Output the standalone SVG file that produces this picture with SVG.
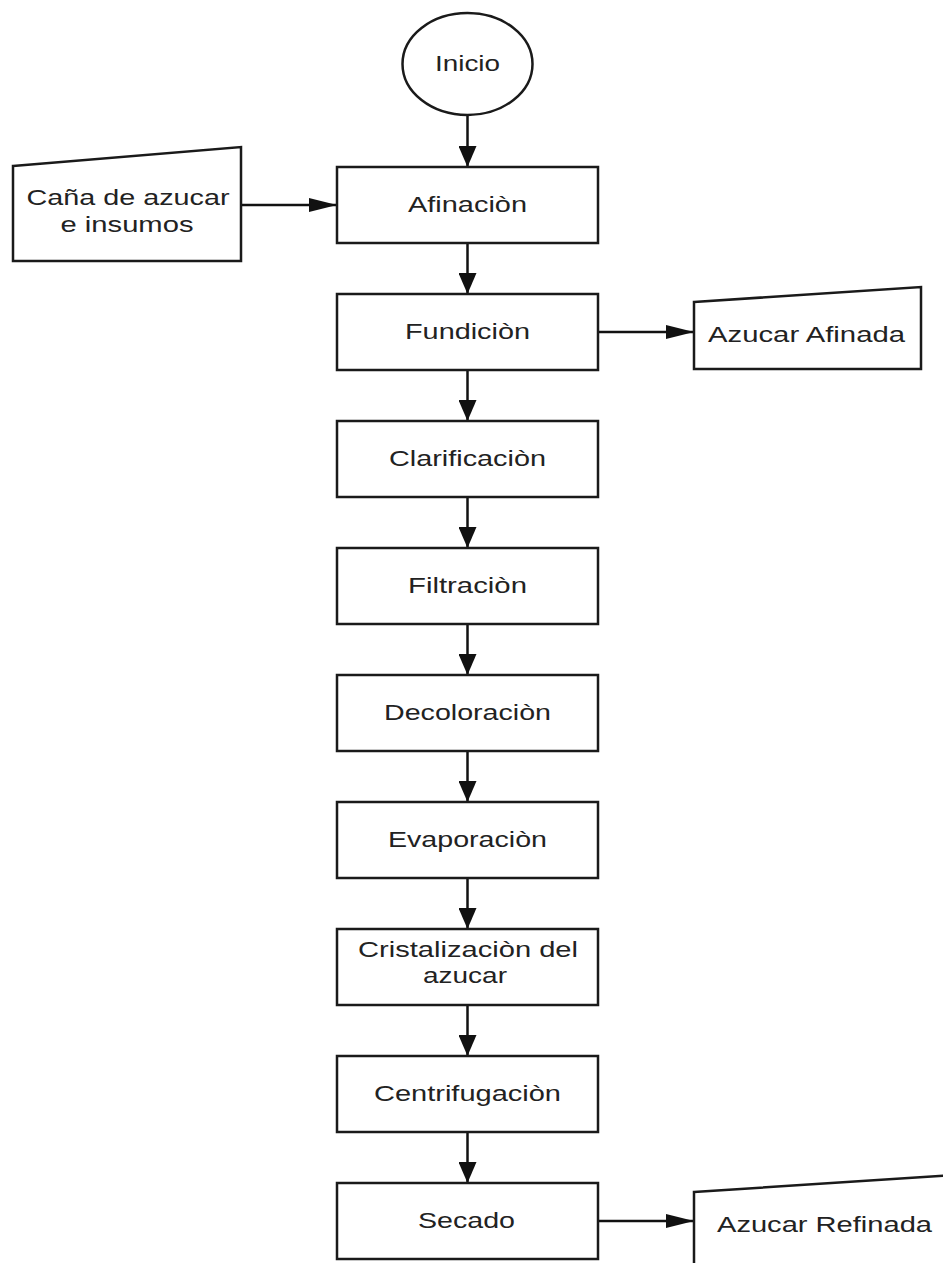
<svg xmlns="http://www.w3.org/2000/svg" width="943" height="1263" viewBox="0 0 943 1263">
<style>
.shape{fill:#fff;stroke:#1a1a1a;stroke-width:2.5}
.lbl{font-family:"Liberation Sans",Arial,sans-serif;font-size:22px;fill:#222;text-anchor:middle}
.con{stroke:#111;stroke-width:2.5;fill:none}
</style>
<defs>
<marker id="arrV" markerUnits="userSpaceOnUse" viewBox="0 0 21 18" markerWidth="21" markerHeight="18" refX="21" refY="9" orient="auto"><path d="M0,0 L21,9 L0,18 z" fill="#111"/></marker>
<marker id="arrH" markerUnits="userSpaceOnUse" viewBox="0 0 28 14" markerWidth="28" markerHeight="14" refX="28" refY="7" orient="auto"><path d="M0,0 L28,7 L0,14 z" fill="#111"/></marker>
</defs>
<rect width="943" height="1263" fill="#fff"/>
<g id="connectors">
<line class="con" x1="467.5" y1="115" x2="467.5" y2="167" marker-end="url(#arrV)"/>
<line class="con" x1="467.5" y1="243" x2="467.5" y2="294" marker-end="url(#arrV)"/>
<line class="con" x1="467.5" y1="370" x2="467.5" y2="421" marker-end="url(#arrV)"/>
<line class="con" x1="467.5" y1="497" x2="467.5" y2="548" marker-end="url(#arrV)"/>
<line class="con" x1="467.5" y1="624" x2="467.5" y2="675" marker-end="url(#arrV)"/>
<line class="con" x1="467.5" y1="751" x2="467.5" y2="802" marker-end="url(#arrV)"/>
<line class="con" x1="467.5" y1="878" x2="467.5" y2="929" marker-end="url(#arrV)"/>
<line class="con" x1="467.5" y1="1005" x2="467.5" y2="1056" marker-end="url(#arrV)"/>
<line class="con" x1="467.5" y1="1132" x2="467.5" y2="1183" marker-end="url(#arrV)"/>
<line class="con" x1="241" y1="205" x2="337" y2="205" marker-end="url(#arrH)"/>
<line class="con" x1="598" y1="332" x2="694" y2="332" marker-end="url(#arrH)"/>
<line class="con" x1="598" y1="1221" x2="694" y2="1221" marker-end="url(#arrH)"/>
</g>
<g id="inicio">
<ellipse class="shape" cx="467.5" cy="64" rx="65" ry="51"/>
<text class="lbl" x="467.5" y="71" textLength="65" lengthAdjust="spacingAndGlyphs">Inicio</text>
</g>
<g id="cana">
<polygon class="shape" points="13,166 241,147 241,261 13,261"/>
<text class="lbl" x="128" y="205" textLength="203" lengthAdjust="spacingAndGlyphs">Caña de azucar</text>
<text class="lbl" x="127" y="232" textLength="133" lengthAdjust="spacingAndGlyphs">e insumos</text>
</g>
<g id="afinacion">
<rect class="shape" x="337" y="167" width="261" height="76"/>
<text class="lbl" x="467.5" y="212" textLength="119" lengthAdjust="spacingAndGlyphs">Afinaciòn</text>
</g>
<g id="fundicion">
<rect class="shape" x="337" y="294" width="261" height="76"/>
<text class="lbl" x="467.5" y="339" textLength="125" lengthAdjust="spacingAndGlyphs">Fundiciòn</text>
</g>
<g id="azucar-afinada">
<polygon class="shape" points="694,302 921,287 921,369 694,369"/>
<text class="lbl" x="806.5" y="342" textLength="197" lengthAdjust="spacingAndGlyphs">Azucar Afinada</text>
</g>
<g id="clarificacion">
<rect class="shape" x="337" y="421" width="261" height="76"/>
<text class="lbl" x="467.5" y="466" textLength="157" lengthAdjust="spacingAndGlyphs">Clarificaciòn</text>
</g>
<g id="filtracion">
<rect class="shape" x="337" y="548" width="261" height="76"/>
<text class="lbl" x="467.5" y="593" textLength="119" lengthAdjust="spacingAndGlyphs">Filtraciòn</text>
</g>
<g id="decoloracion">
<rect class="shape" x="337" y="675" width="261" height="76"/>
<text class="lbl" x="467.5" y="720" textLength="167" lengthAdjust="spacingAndGlyphs">Decoloraciòn</text>
</g>
<g id="evaporacion">
<rect class="shape" x="337" y="802" width="261" height="76"/>
<text class="lbl" x="467.5" y="847" textLength="159" lengthAdjust="spacingAndGlyphs">Evaporaciòn</text>
</g>
<g id="cristalizacion">
<rect class="shape" x="337" y="929" width="261" height="76"/>
<text class="lbl" x="468" y="957" textLength="220" lengthAdjust="spacingAndGlyphs">Cristalizaciòn del</text>
<text class="lbl" x="465" y="983" textLength="84" lengthAdjust="spacingAndGlyphs">azucar</text>
</g>
<g id="centrifugacion">
<rect class="shape" x="337" y="1056" width="261" height="76"/>
<text class="lbl" x="467.5" y="1101" textLength="187" lengthAdjust="spacingAndGlyphs">Centrifugaciòn</text>
</g>
<g id="secado">
<rect class="shape" x="337" y="1183" width="261" height="76"/>
<text class="lbl" x="466.5" y="1228" textLength="97" lengthAdjust="spacingAndGlyphs">Secado</text>
</g>
<g id="azucar-refinada">
<polygon class="shape" points="694,1192 955,1175 955,1290 694,1290"/>
<text class="lbl" x="824.5" y="1232" textLength="215" lengthAdjust="spacingAndGlyphs">Azucar Refinada</text>
</g>
</svg>
